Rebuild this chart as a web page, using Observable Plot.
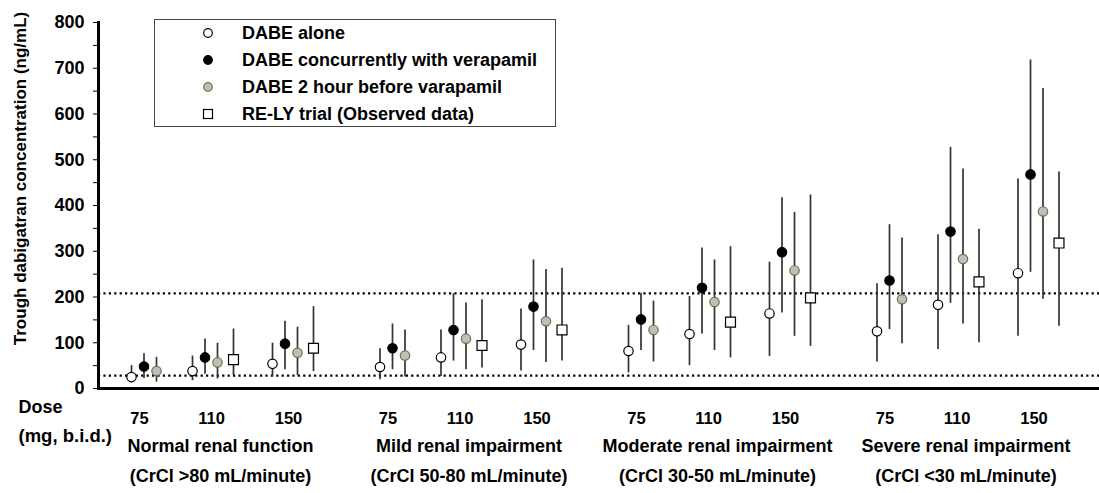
<!DOCTYPE html>
<html><head><meta charset="utf-8">
<script src="https://cdn.jsdelivr.net/npm/d3@7"></script>
<script src="https://cdn.jsdelivr.net/npm/@observablehq/plot@0.6"></script>
<style>
body{margin:0;background:#fff;}
#wrap{position:relative;width:1099px;height:493px;font-family:"Liberation Sans",Arial,sans-serif;font-weight:bold;}
#legend{position:absolute;left:154px;top:19px;width:402px;height:108px;border:1.5px solid #444;background:#fff;box-sizing:border-box;}
.lrow{position:absolute;left:0;height:24px;width:395px;font-size:18px;line-height:24px;color:#000;white-space:nowrap;}
.lrow svg{position:absolute;left:47px;top:6px;}
.lrow span{position:absolute;left:87px;top:0;}
</style></head>
<body><div id="wrap"><div id="chart"></div><div id="legend"></div></div>
<script>
// ---- data ----
const groups = ["Normal renal function", "Mild renal impairment", "Moderate renal impairment", "Severe renal impairment"];
const groupSubs = ["(CrCl >80 mL/minute)", "(CrCl 50-80 mL/minute)", "(CrCl 30-50 mL/minute)", "(CrCl <30 mL/minute)"];
const doses = ["75", "110", "150"];
const seriesNames = ["DABE alone", "DABE concurrently with verapamil", "DABE 2 hour before varapamil", "RE-LY trial (Observed data)"];
// order: group-major, dose-minor (N75,N110,N150, Mi75,...)
const aloneMid  = [25, 38, 54,   47, 68, 96,    82, 119, 164,   125, 183, 252];
const aloneLow  = [12, 17, 26,   19, 26, 38,    34, 50, 70,     58, 85, 114];
const aloneHigh = [50, 71, 99,   87, 128, 174,  138, 201, 276,  229, 336, 458];
const concMid   = [48, 68, 98,   88, 128, 179,  151, 220, 298,  236, 343, 468];
const concLow   = [22, 31, 41,   41, 60, 83,    83, 119, 165,   129, 186, 254];
const concHigh  = [76, 108, 147, 141, 207, 281, 208, 307, 417,  358, 527, 718];
const beforeMid = [38, 57, 78,   72, 109, 147,  128, 189, 258,  195, 283, 387];
const beforeLow = [14, 21, 28,   25, 41, 57,    58, 83, 114,    98, 141, 195];
const beforeHigh= [68, 99, 134,  128, 187, 260, 191, 281, 385,  329, 480, 656];
const relyMid   = [null, 63, 88,   null, 94, 128,  null, 145, 198,  null, 233, 318];
const relyLow   = [null, 28, 37,   null, 45, 60,   null, 67, 92,    null, 100, 136];
const relyHigh  = [null, 130, 179, null, 194, 263, null, 310, 423,  null, 348, 473];
const refLines = [28, 208];
const yTicks = [0, 100, 200, 300, 400, 500, 600, 700, 800];

// ---- layout (horizontal slot arithmetic) ----
const GROUP_STEP = 248.5, DOSE_OFF = [0, 61, 141], SERIES_OFF = [0, 12.5, 25, 41];
const DOSE_LABEL_OFF = [8, 80, 157], GROUP_LABEL_OFF = 89;
const styles = [
  {symbol: "circle", fill: "#fff", stroke: "#000", r: 4.7},
  {symbol: "circle", fill: "#000", stroke: "#000", r: 4.7},
  {symbol: "circle", fill: "#bebebe", stroke: "#66783a", r: 4.7},
  {symbol: "square", fill: "#fff", stroke: "#000", r: 5.6}
];
const sets = [[aloneMid, aloneLow, aloneHigh], [concMid, concLow, concHigh], [beforeMid, beforeLow, beforeHigh], [relyMid, relyLow, relyHigh]];
const rows = [];
sets.forEach(([m, lo, hi], s) => {
  m.forEach((v, i) => {
    if (v == null) return;
    const g = Math.floor(i / 3), d = i % 3;
    rows.push({s, g, d, x: g * GROUP_STEP + DOSE_OFF[d] + SERIES_OFF[s], mid: v, lo: lo[i], hi: hi[i]});
  });
});
const doseLabels = [];
groups.forEach((_, g) => doses.forEach((t, d) => doseLabels.push({x: g * GROUP_STEP + DOSE_LABEL_OFF[d], t})));
const groupLabels = groups.map((t, g) => ({x: g * GROUP_STEP + GROUP_LABEL_OFF, t, sub: groupSubs[g]}));

const F = "Liberation Sans, Arial, sans-serif";
const txt = (size) => ({fontSize: size, fontWeight: "bold", fontFamily: F, fill: "#000"});
const dotMarks = styles.map((st, s) => Plot.dot(rows.filter(r => r.s === s), {
  x: "x", y: "mid", symbol: st.symbol, r: st.r, fill: st.fill, stroke: st.stroke, strokeWidth: 1.2
}));

const chart = Plot.plot({
  width: 1099, height: 493,
  marginLeft: 98, marginRight: 0, marginTop: 22, marginBottom: 105,
  x: {domain: [-33, 968], axis: null},
  y: {domain: [0, 800], axis: null},
  style: {fontFamily: F, fontWeight: "bold", background: "#fff", color: "#000"},
  marks: [
    Plot.ruleY(refLines, {stroke: "#000", strokeWidth: 2.2, strokeDasharray: "2.2 3.2"}),
    Plot.ruleX(rows, {x: "x", y1: "lo", y2: "hi", stroke: "#333", strokeWidth: 1.7}),
    ...dotMarks,
    Plot.axisY({ticks: d3.range(50, 800, 100), tickSize: 5, tickFormat: () => "", stroke: "#000"}),
    Plot.axisY({ticks: yTicks, tickSize: 5, tickPadding: 9, ...txt(18), label: null, stroke: "#000"}),
    Plot.frame({anchor: "left", stroke: "#000", strokeWidth: 3}),
    Plot.frame({anchor: "bottom", stroke: "#000", strokeWidth: 3}),
    Plot.text(doseLabels, {x: "x", text: "t", frameAnchor: "bottom", dy: 35, ...txt(16.5)}),
    Plot.text(groupLabels, {x: "x", text: "t", frameAnchor: "bottom", dy: 63, ...txt(18)}),
    Plot.text(groupLabels, {x: "x", text: "sub", frameAnchor: "bottom", dy: 93, ...txt(18)}),
    Plot.text(["Dose"], {frameAnchor: "bottom-left", textAnchor: "start", dx: -80, dy: 24, ...txt(18)}),
    Plot.text(["(mg, b.i.d.)"], {frameAnchor: "bottom-left", textAnchor: "start", dx: -80, dy: 53, ...txt(18.5)}),
    Plot.text(["Trough dabigatran concentration (ng/mL)"], {frameAnchor: "left", textAnchor: "middle", rotate: -90, dx: -78, dy: -27, ...txt(17)})
  ]
});
document.getElementById("chart").appendChild(chart);

// ---- legend ----
const legend = document.getElementById("legend");
const rowTops = [1, 28, 55, 82];
seriesNames.forEach((name, s) => {
  const st = styles[s];
  const div = document.createElement("div");
  div.className = "lrow";
  div.style.top = rowTops[s] + "px";
  const shape = st.symbol === "square"
    ? `<rect x="1.5" y="1.5" width="9" height="9" fill="${st.fill}" stroke="${st.stroke}" stroke-width="1.2"/>`
    : `<circle cx="6" cy="6" r="4.3" fill="${st.fill}" stroke="${st.stroke}" stroke-width="1.2"/>`;
  div.innerHTML = `<svg width="12" height="12" viewBox="0 0 12 12">${shape}</svg><span>${name}</span>`;
  legend.appendChild(div);
});
</script>
</body></html>
